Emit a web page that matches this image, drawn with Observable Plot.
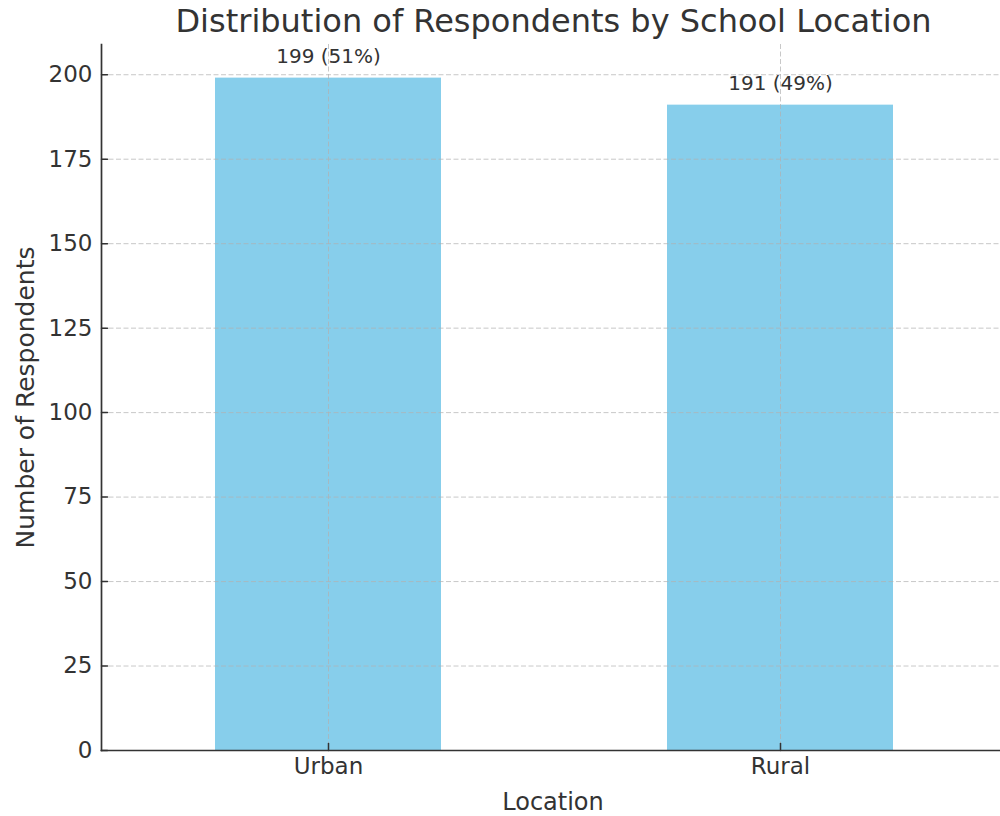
<!DOCTYPE html>
<html><head><meta charset="utf-8">
<script src="https://cdn.jsdelivr.net/npm/d3@7"></script>
<script src="https://cdn.jsdelivr.net/npm/@observablehq/plot@0.6"></script>
<style>
html,body{margin:0;padding:0;background:#fff;overflow:hidden;}
#wrap{position:relative;width:1000px;height:816px;}
#title{position:absolute;top:1px;left:553.5px;transform:translateX(-50%);white-space:nowrap;font-family:"DejaVu Sans";font-size:32px;line-height:40px;color:#333;}
</style></head><body>
<div id="wrap"><div id="title"></div></div>
<script>
const titleText = "Distribution of Respondents by School Location";
const xLabel = "Location";
const yLabel = "Number of Respondents";
const locations = ["Urban", "Rural"];
const counts = [199, 191];
const percents = [51, 49];
const yTicks = [0, 25, 50, 75, 100, 125, 150, 175, 200];

const data = locations.map((loc, i) => ({loc, count: counts[i], pct: percents[i]}));
document.getElementById("title").textContent = titleText;

const tickShape = {draw(ctx, l) { ctx.moveTo(0, 0); ctx.lineTo(0, -l); }};
const ink = "#333";

const chart = Plot.plot({
  width: 1000,
  height: 816,
  marginLeft: 101,
  marginRight: 0,
  marginTop: 44,
  marginBottom: 66,
  style: {fontFamily: "DejaVu Sans", color: ink, background: "#fff"},
  x: {domain: locations, range: [101, 1006], paddingInner: 0.5, paddingOuter: 0.25, align: 0.5, label: null},
  y: {domain: [0, 208.95], label: null},
  marks: [
    Plot.barY(data, {x: "loc", y: "count", fill: "#87CEEB"}),
    Plot.ruleY(yTicks.filter(d => d > 0), {stroke: "#b0b0b0", strokeOpacity: 0.7, strokeWidth: 1, strokeDasharray: "5,2.5"}),
    Plot.ruleX(locations, {stroke: "#b0b0b0", strokeOpacity: 0.7, strokeWidth: 1, strokeDasharray: "5,2.5"}),
    Plot.frame({anchor: "left", stroke: ink, strokeWidth: 1.7}),
    Plot.frame({anchor: "bottom", stroke: ink, strokeWidth: 1.7}),
    Plot.vector(yTicks, {y: d => d, frameAnchor: "left", length: 6, rotate: 90, anchor: "start", shape: tickShape, stroke: ink, strokeWidth: 1.5}),
    Plot.vector(locations, {x: d => d, frameAnchor: "bottom", length: 7, rotate: 0, anchor: "start", shape: tickShape, stroke: ink, strokeWidth: 1.5}),
    Plot.axisY({ticks: yTicks, tickSize: 0, tickPadding: 9, fontSize: 23, fill: ink, tickFormat: d => String(d)}),
    Plot.axisX({tickSize: 0, tickPadding: 7, fontSize: 23, fill: ink}),
    Plot.text(data, {x: "loc", y: "count", text: d => `${d.count} (${d.pct}%)`, dy: -22, lineAnchor: "middle", fontSize: 20, fill: ink}),
    Plot.text([xLabel], {frameAnchor: "bottom", dx: 2, dy: 52, lineAnchor: "middle", fontSize: 24, fill: ink}),
    Plot.text([yLabel], {frameAnchor: "left", dx: -76, rotate: -90, textAnchor: "middle", lineAnchor: "middle", fontSize: 25, fill: ink})
  ]
});
document.getElementById("wrap").appendChild(chart);
</script>
</body></html>
